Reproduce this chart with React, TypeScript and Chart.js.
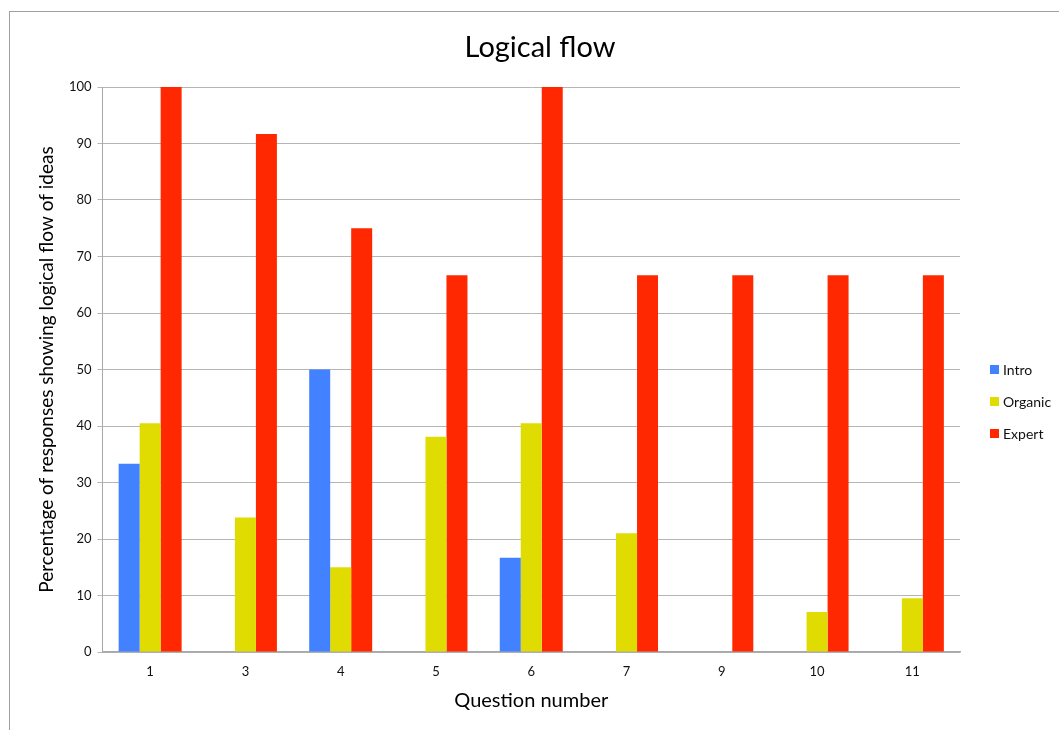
import React, { useEffect, useRef } from 'react';
import { Chart, registerables } from 'chart.js';

Chart.register(...registerables);

const categories = ['1', '3', '4', '5', '6', '7', '9', '10', '11'];
const introValues = [33.3, 0, 50, 0, 16.7, 0, 0, 0, 0];
const organicValues = [40.5, 23.8, 15, 38.1, 40.5, 21, 0, 7.1, 9.5];
const expertValues = [100, 91.7, 75, 66.7, 100, 66.7, 66.7, 66.7, 66.7];
const seriesNames = ['Intro', 'Organic', 'Expert'];
const seriesColors = ['#4281FF', '#E0DB00', '#FF2800'];

const FONT = 'Lato, "Open Sans", sans-serif';

const legendPlugin = {
  id: 'sideLegend',
  afterDraw(chart: any) {
    const ctx = chart.ctx;
    ctx.save();
    ctx.font = `14px ${FONT}`;
    ctx.textBaseline = 'middle';
    ctx.textAlign = 'left';
    chart.data.datasets.forEach((ds: any, i: number) => {
      const cy = 369.5 + i * 32;
      ctx.fillStyle = ds.backgroundColor;
      ctx.fillRect(990, cy - 4.5, 9, 9);
      ctx.fillStyle = '#111';
      ctx.fillText(ds.label, 1003, cy + 0.5);
    });
    ctx.restore();
  },
};

export default function App() {
  const ref = useRef<HTMLCanvasElement | null>(null);

  useEffect(() => {
    if (!ref.current) return;
    const values = [introValues, organicValues, expertValues];
    const chart = new Chart(ref.current, {
      type: 'bar',
      data: {
        labels: categories,
        datasets: seriesNames.map((name, i) => ({
          label: name,
          data: values[i],
          backgroundColor: seriesColors[i],
          borderWidth: 0,
          categoryPercentage: 0.661,
          barPercentage: 1,
        })),
      },
      options: {
        animation: false,
        responsive: false,
        maintainAspectRatio: false,
        layout: { padding: { top: 0, left: 21, right: 0, bottom: 0 } },
        plugins: {
          legend: { display: false },
          tooltip: { enabled: false },
          title: {
            display: true,
            text: 'Logical flow',
            color: '#000',
            font: { family: FONT, size: 29, weight: 'normal', lineHeight: 1.2 },
            padding: { top: 30.6, bottom: 21.6 },
          },
        },
        scales: {
          x: {
            grid: { display: false, drawTicks: false },
            border: { display: true, color: '#a8a8a8', width: 1.5 },
            ticks: {
              color: '#111',
              font: { family: FONT, size: 13 },
              padding: 12,
              maxRotation: 0,
            },
            title: {
              display: true,
              text: 'Question number',
              color: '#000',
              font: { family: FONT, size: 20, lineHeight: 1.2 },
              padding: { top: 0, bottom: 17 },
            },
            afterFit: (s: any) => {
              s.height = 78;
            },
          },
          y: {
            min: 0,
            max: 100,
            grid: { color: '#b5b5b5', lineWidth: 1, drawTicks: true, tickLength: 5 },
            border: { display: true, color: '#a8a8a8', width: 1 },
            ticks: {
              stepSize: 10,
              color: '#111',
              font: { family: FONT, size: 13 },
              padding: 6,
            },
            title: {
              display: true,
              text: 'Percentage of responses showing logical flow of ideas',
              color: '#000',
              font: { family: FONT, size: 19, lineHeight: 1.2 },
              padding: { top: 14.6, bottom: 0 },
            },
            afterFit: (s: any) => {
              s.width = 81.5;
            },
          },
          yR: {
            type: 'linear',
            position: 'right',
            display: true,
            grid: { display: false, drawTicks: false },
            border: { display: false },
            ticks: { display: false },
            afterFit: (s: any) => {
              s.width = 99;
            },
          },
        },
      } as any,
      plugins: [legendPlugin],
    });
    return () => chart.destroy();
  }, []);

  return (
    <div style={{ position: 'fixed', left: 0, top: 0, width: 1059, height: 730, background: '#fff' }}>
      <div
        style={{
          position: 'absolute',
          left: 9,
          top: 11,
          right: 0,
          bottom: 0,
          borderTop: '1px solid #a0a0a0',
          borderLeft: '1px solid #a0a0a0',
        }}
      />
      <canvas ref={ref} width={1059} height={730} style={{ position: 'absolute', left: 0, top: 0, width: 1059, height: 730 }} />
    </div>
  );
}
